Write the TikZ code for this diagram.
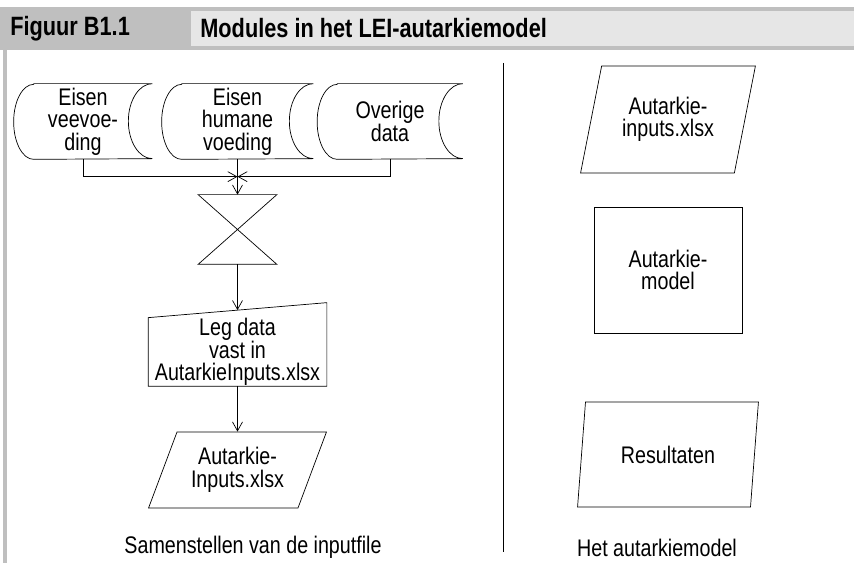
\documentclass[tikz,border=0pt]{standalone}
\usepackage{fontspec}
\setmainfont{Liberation Sans}[FakeStretch=0.82]
\usetikzlibrary{arrows.meta,positioning,calc,shapes.geometric}
\definecolor{kopdonker}{HTML}{BFBFBF}
\definecolor{koplicht}{HTML}{E6E6E6}

\begin{document}
\begin{tikzpicture}[x=1pt,y=1pt,on grid,line width=0.7pt,
    >={Straight Barb[length=9pt,width=10pt]},
    every node/.style={font=\fontsize{24}{22.5}\selectfont,align=center,inner sep=0pt},
    opslag/.style={minimum width=#1,minimum height=75pt},
    kruis/.style={minimum width=78pt,minimum height=69pt},
    invoer/.style={minimum width=178pt,minimum height=68pt},
    bestand/.style={draw,trapezium,trapezium stretches=true},
    model/.style={draw,minimum width=148pt,minimum height=126pt},
    kop/.style={font=\fontsize{26.5}{26.5}\selectfont\bfseries,anchor=west}]
  \useasboundingbox (0,0) rectangle (854,573);

  % kop
  \fill[kopdonker] (0,523) rectangle (854,566);
  \fill[koplicht] (191,527) rectangle (854,562);
  \fill[kopdonker] (2.5,10) rectangle (7,523);
  \node[kop] (fignr) at (10,544.5) {Figuur B1.1};
  \node[kop] (figtitel) at (200,544.5) {Modules in het LEI-autarkiemodel};

  % samenstellen van de inputfile
  \node[opslag=151pt] (humaan) at (237.5,451.5) {Eisen\\humane\\voeding};
  \node[opslag=138pt] (vee) [left=154.5pt of humaan] {Eisen\\veevoe-\\ding};
  \node[opslag=145pt] (overig) [right=152.5pt of humaan] {Overige\\data};
  \node[kruis] (sorteer) [below=108pt of humaan] {};
  \node[invoer] (vastleggen) [below=122.5pt of sorteer] {Leg data\\vast in\\AutarkieInputs.xlsx};
  \node[bestand,trapezium left angle=64,trapezium right angle=116,
        minimum width=178pt,minimum height=76pt] (inputs) [below=118pt of vastleggen] {Autarkie-\\Inputs.xlsx};
  \node (samenstellen) at (253,26) {Samenstellen van de inputfile};

  \foreach \n in {vee,humaan,overig}
    \draw ([xshift=20pt]\n.north west) -- (\n.north east)
      arc[start angle=90,end angle=270,x radius=24pt,y radius=37.5pt]
      -- ([xshift=20pt]\n.south west)
      arc[start angle=270,end angle=90,x radius=20pt,y radius=37.5pt] -- cycle;
  \draw (sorteer.north west) -- (sorteer.north east) -- (sorteer.south west)
    -- (sorteer.south east) -- cycle;
  \draw (vastleggen.south west) -- (vastleggen.south east)
    -- ([yshift=15pt]vastleggen.north east) -- (vastleggen.north west) -- cycle;

  \coordinate (samen) at ($(sorteer.north)+(0,18pt)$);
  \coordinate (vasttop) at ($(vastleggen.north)+(0,7.5pt)$);
  \draw[->] (vee) |- (samen);
  \draw[->] (overig) |- (samen);
  \draw[->] (humaan) -- (sorteer);
  \draw[->] (sorteer) -- (vasttop);
  \draw[->] (vastleggen) -- (inputs);

  \draw (503,510) -- (503,21);

  % het autarkiemodel
  \node[model] (model) at (668,303) {Autarkie-\\model};
  \node[bestand,trapezium left angle=72,trapezium right angle=108,
        minimum width=175pt,minimum height=107pt] (xlsx) [above=150.5pt of model] {Autarkie-\\inputs.xlsx};
  \node[bestand,trapezium left angle=75.6,trapezium right angle=104.4,
        minimum width=181pt,minimum height=105pt] (resultaten) [below=184.5pt of model] {Resultaten};
  \node (autarkiemodel) at (657,25) {Het autarkiemodel};
\end{tikzpicture}
\end{document}
